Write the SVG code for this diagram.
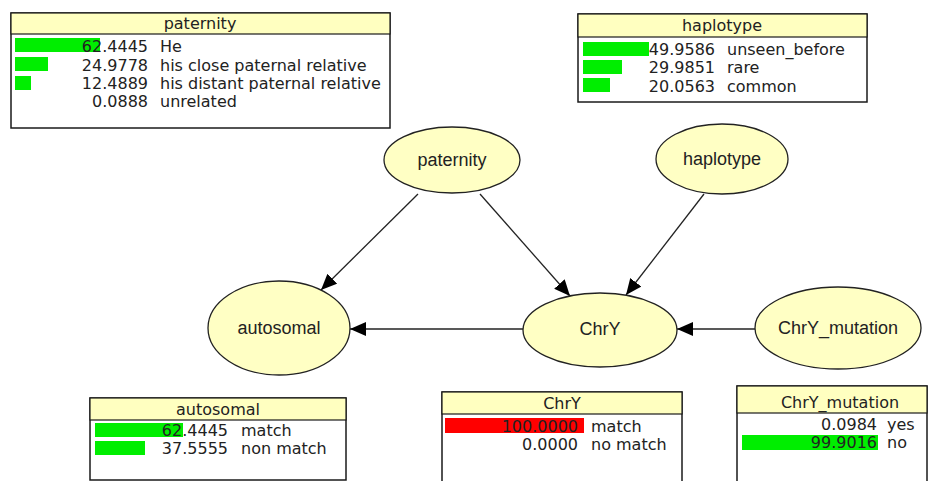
<svg xmlns="http://www.w3.org/2000/svg" width="929" height="481" viewBox="0 0 929 481">
<style>
.bg{fill:#ffffff}
.box{fill:#ffffff;stroke:#1a1a1a;stroke-width:1.5}
.hdr{fill:#ffffc0;stroke:#1a1a1a;stroke-width:1.2}
.tt{font-family:"DejaVu Sans",Verdana,sans-serif;font-size:16px;fill:#222}
.num{text-anchor:end}
.ctr{text-anchor:middle}
.g{fill:#00ee00}
.r{fill:#ff0000}
.node{fill:#ffffc4;stroke:#222;stroke-width:1.3}
.nl{font-family:"Liberation Sans",Arial,sans-serif;font-size:18px;fill:#222;text-anchor:middle}
.edge{fill:none;stroke:#222;stroke-width:1.3}
</style>
<defs>
<marker id="arr" markerUnits="userSpaceOnUse" markerWidth="17" markerHeight="15" refX="16" refY="7" orient="auto">
<path d="M0,0 L16,7 L0,14 z" fill="#000"/>
</marker>
</defs>
<rect class="bg" x="0" y="0" width="929" height="481"/>

<g id="edges">
<path class="edge" d="M418,194 L321,290" marker-end="url(#arr)"/>
<path class="edge" d="M480,194 L570,296" marker-end="url(#arr)"/>
<path class="edge" d="M704,194 L626,295" marker-end="url(#arr)"/>
<path class="edge" d="M523,329 L350,329" marker-end="url(#arr)"/>
<path class="edge" d="M755,329 L677,329" marker-end="url(#arr)"/>
</g>

<g id="node-paternity">
<ellipse class="node" cx="452" cy="160" rx="68" ry="33"/>
<text class="nl" x="452" y="166">paternity</text>
</g>
<g id="node-haplotype">
<ellipse class="node" cx="722" cy="159" rx="66" ry="35"/>
<text class="nl" x="722" y="165">haplotype</text>
</g>
<g id="node-autosomal">
<ellipse class="node" cx="279" cy="328" rx="71" ry="47"/>
<text class="nl" x="279" y="334">autosomal</text>
</g>
<g id="node-ChrY">
<ellipse class="node" cx="600" cy="330" rx="77" ry="37"/>
<text class="nl" x="600" y="335">ChrY</text>
</g>
<g id="node-ChrY_mutation">
<ellipse class="node" cx="838" cy="328" rx="83" ry="41"/>
<text class="nl" x="838" y="334">ChrY_mutation</text>
</g>

<g id="table-paternity">
<rect class="box" x="11" y="13" width="379" height="115"/>
<rect class="hdr" x="11" y="13" width="379" height="21"/>
<text class="tt ctr" x="200" y="29">paternity</text>
<rect class="g" x="15" y="38" width="85" height="14"/>
<rect class="g" x="15" y="57" width="33" height="14"/>
<rect class="g" x="15" y="76" width="16" height="14"/>
<text class="tt num" x="148" y="52">62.4445</text><text class="tt" x="160" y="52">He</text>
<text class="tt num" x="148" y="71">24.9778</text><text class="tt" x="160" y="71">his close paternal relative</text>
<text class="tt num" x="148" y="89">12.4889</text><text class="tt" x="160" y="89">his distant paternal relative</text>
<text class="tt num" x="148" y="107">0.0888</text><text class="tt" x="160" y="107">unrelated</text>
</g>

<g id="table-haplotype">
<rect class="box" x="578" y="14" width="289" height="88"/>
<rect class="hdr" x="578" y="14" width="289" height="23"/>
<text class="tt ctr" x="722" y="31">haplotype</text>
<rect class="g" x="583" y="42" width="66" height="14"/>
<rect class="g" x="583" y="60" width="39" height="14"/>
<rect class="g" x="583" y="78" width="27" height="14"/>
<text class="tt num" x="715" y="55">49.9586</text><text class="tt" x="727" y="55">unseen_before</text>
<text class="tt num" x="715" y="73">29.9851</text><text class="tt" x="727" y="73">rare</text>
<text class="tt num" x="715" y="92">20.0563</text><text class="tt" x="727" y="92">common</text>
</g>

<g id="table-autosomal">
<rect class="box" x="90" y="398" width="256" height="82"/>
<rect class="hdr" x="90" y="398" width="256" height="22"/>
<text class="tt ctr" x="218" y="415">autosomal</text>
<rect class="g" x="95" y="423" width="88" height="14"/>
<rect class="g" x="95" y="441" width="50" height="14"/>
<text class="tt num" x="228" y="436">62.4445</text><text class="tt" x="241" y="436">match</text>
<text class="tt num" x="228" y="454">37.5555</text><text class="tt" x="241" y="454">non match</text>
</g>

<g id="table-ChrY">
<rect class="box" x="442" y="392" width="240" height="95"/>
<rect class="hdr" x="442" y="392" width="240" height="22"/>
<text class="tt ctr" x="562" y="409">ChrY</text>
<rect class="r" x="445" y="418" width="139" height="15"/>
<text class="tt num" x="578" y="432">100.0000</text><text class="tt" x="591" y="432">match</text>
<text class="tt num" x="578" y="450">0.0000</text><text class="tt" x="591" y="450">no match</text>
</g>

<g id="table-ChrY_mutation">
<rect class="box" x="737" y="386" width="190" height="101"/>
<rect class="hdr" x="737" y="386" width="190" height="27"/>
<text class="tt ctr" x="840" y="408">ChrY_mutation</text>
<rect class="g" x="742" y="435" width="136" height="15"/>
<text class="tt num" x="877" y="430">0.0984</text><text class="tt" x="887" y="430">yes</text>
<text class="tt num" x="877" y="448">99.9016</text><text class="tt" x="887" y="448">no</text>
</g>
</svg>
